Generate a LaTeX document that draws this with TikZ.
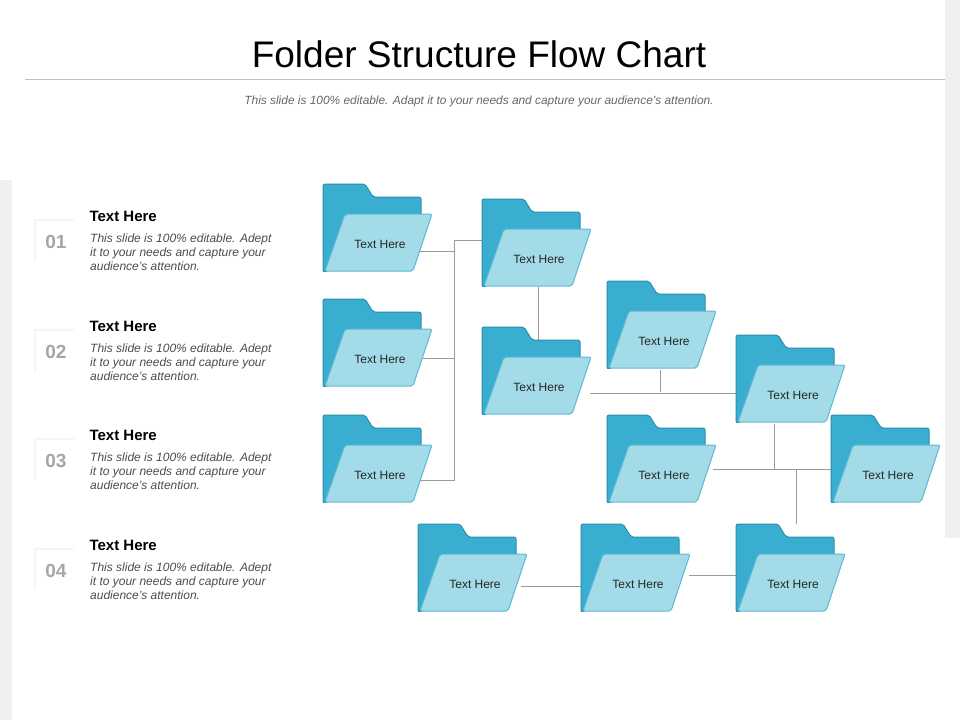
\documentclass[tikz,border=0pt]{standalone}
\usepackage{fontspec}
\setmainfont{Liberation Sans}
\usetikzlibrary{calc,shadows,backgrounds}
\definecolor{bk}{HTML}{3AAED0}
\definecolor{bke}{HTML}{2A8EAE}
\definecolor{fr}{HTML}{A3DCE8}
\definecolor{fre}{HTML}{5DB9D2}
\definecolor{ln}{HTML}{9A9A9A}
\tikzset{
 back/.style={fill=bk,draw=bke,line width=1pt,rounded corners=2pt,line join=round},
 front/.style={fill=fr,draw=fre,line width=1pt,rounded corners=2pt,line join=round},
 lbl/.style={font=\fontsize{12}{14}\selectfont,text=black!85},
 con/.style={draw=ln,line width=0.6pt},
 numbox/.style={fill=white,minimum width=40pt,minimum height=42pt,inner sep=0pt,font=\fontsize{19}{20}\selectfont\bfseries,text=black!35,drop shadow={opacity=0.08,shadow xshift=-2pt,shadow yshift=2pt}},
}
\newcommand\fold[3]{%
 \path[back] (#2,#3+88) -- (#2,#3) -- (#2+42,#3) -- (#2+50,#3+13) -- (#2+98,#3+13) -- (#2+98,#3+60) -- cycle;
 \path[front] (#2+2,#3+87) -- (#2+90,#3+87) -- (#2+109,#3+30) -- (#2+22,#3+30) -- cycle;
 \node[lbl] (#1) at (#2+57,#3+60) {Text Here};}
\newcommand\listitem[3]{%
 \node[numbox] (n#1) at (56,#3+26) {#2};
 \node[anchor=west,font=\fontsize{15}{16}\selectfont\bfseries] (h#1) at (86,#3) {Text Here};
 \node[anchor=north west,align=left,font=\fontsize{12}{14}\selectfont\itshape,text=black!70,inner sep=0pt] (b#1) at (90,#3+18) {This slide is 100\% editable. Adept\\it to your needs and capture your\\audience’s attention.};}
\begin{document}
\begin{tikzpicture}[x=1pt,y=-1pt]
\useasboundingbox (0,0) rectangle (960,720);
\fill[black!6] (0,180) rectangle (12,720);
\fill[black!6] (945,0) rectangle (960,538);
\node[font=\fontsize{37}{42}\selectfont] (title) at (479,54) {Folder Structure Flow Chart};
\draw[black!25,line width=0.8pt] (25,79) -- (945,79);
\node[font=\fontsize{11.9}{13}\selectfont\itshape,text=black!60] (sub) at (479,101) {This slide is 100\% editable. Adapt it to your needs and capture your audience’s attention.};
\listitem{1}{01}{216}
\listitem{2}{02}{326}
\listitem{3}{03}{435}
\listitem{4}{04}{545}
\coordinate (j1) at (454,240);
\coordinate (j2) at (774,469);
\coordinate (j3) at (796,469);
\fold{f1}{323}{184}\fold{f2}{323}{299}\fold{f3}{323}{415}
\fold{f4}{482}{199}\fold{f5}{482}{327}\fold{f6}{607}{281}
\fold{f7}{736}{335}\fold{f8}{607}{415}\fold{f9}{831}{415}
\fold{f10}{418}{524}\fold{f11}{581}{524}\fold{f12}{736}{524}
\begin{scope}[on background layer]
\draw[con] ($(f1)+(40,7)$) -| ($(j1)+(0,11)$);
\draw[con] ($(f2)+(40,-1)$) -| (j1);
\draw[con] ($(f3)+(40,5)$) -| (j1) -- ($(f4)+(-56,-19)$);
\draw[con] ($(f4)+(-1,28)$) -- ($(f5)+(-1,-32)$);
\draw[con] ($(f5)+(51,6)$) -- ($(f7)+(-53,-2)$);
\draw[con] ($(f6)+(-4,29)$) -- ($(f6)+(-4,51)$);
\draw[con] ($(f7)+(-19,29)$) -- (j2);
\draw[con] ($(f8)+(49,-6)$) -- ($(f9)+(-52,-6)$);
\draw[con] (j3) -- ($(f12)+(3,-60)$);
\draw[con] ($(f10)+(46,2)$) -- ($(f11)+(-56,2)$);
\draw[con] ($(f11)+(51,-9)$) -- ($(f12)+(-53,-9)$);
\end{scope}
\end{tikzpicture}
\end{document}
